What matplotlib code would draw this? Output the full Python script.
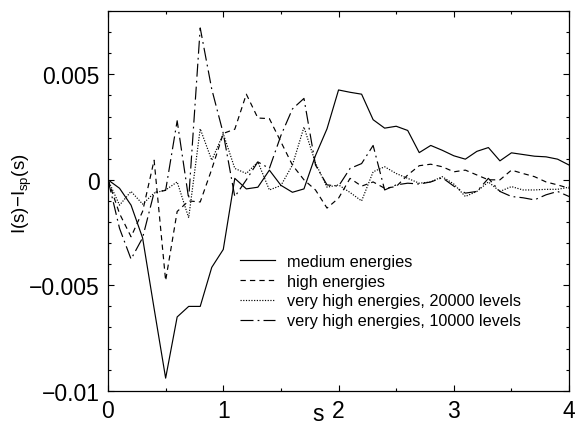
import matplotlib
matplotlib.use("Agg")
import matplotlib.pyplot as plt
from matplotlib.ticker import MultipleLocator, FixedLocator, FixedFormatter
import numpy as np

plt.rcParams['font.family'] = ['Liberation Sans', 'DejaVu Sans']
plt.rcParams['mathtext.fontset'] = 'custom'
plt.rcParams['mathtext.rm'] = 'Liberation Sans'
plt.rcParams['mathtext.it'] = 'Liberation Sans'

s = [round(0.1 * i, 1) for i in range(41)]

# values in units of 1e-3
medium = [0.0, -0.4, -1.2, -2.75, -6.1, -9.4, -6.5, -6.0, -6.0, -4.15, -3.3,
          0.07, -0.43, -0.35, 0.46, -0.26, -0.59, -0.43, 1.15, 2.42, 4.26,
          4.15, 4.06, 2.85, 2.45, 2.54, 2.34, 1.29, 1.63, 1.4, 1.14,
          0.98, 1.35, 1.53, 0.9, 1.28, 1.2, 1.12, 1.09, 0.98, 0.7]
high = [0.0, -1.6, -2.7, -1.5, 0.93, -4.78, -1.5, -1.0, -1.05, 0.5, 2.2,
        2.4, 4.06, 2.93, 2.9, 1.8, 0.7, 0.0, -0.48, -1.34, -0.87,
        0.07, -0.3, -0.1, -0.4, -0.32, 0.23, 0.67, 0.74, 0.62, 0.38,
        0.46, 0.23, 0.0, 0.0, 0.46, 0.3, 0.15, -0.1, -0.24, -0.4]
vhigh20000 = [0.0, -1.2, -0.55, -1.15, -0.63, -0.48, -0.1, -1.8, 2.42, 0.93, 2.18,
              0.54, 0.3, 0.85, -0.48, -0.27, 0.7, 2.5, 0.8, -0.35, -0.24,
              -0.6, -1.0, 0.38, 0.62, 0.3, 0.07, -0.16, -0.1, 0.15, -0.2,
              -0.79, -0.55, -0.1, -0.55, -0.32, -0.48, -0.48, -0.45, -0.45, -0.35]
vhigh10000 = [0.0, -2.3, -3.76, -2.75, -0.6, -0.5, 2.8, -0.9, 7.2, 4.3, 2.2,
              -0.8, 0.0, 0.85, 0.54, 2.1, 3.36, 3.86, 0.7, -0.24, -0.3,
              0.54, 0.77, 1.63, -0.48, -0.24, -0.16, -0.2, -0.1, 0.1, -0.3,
              -0.63, -0.55, 0.07, -0.55, -0.79, -0.85, -0.95, -0.71, -0.55, -0.79]

labels = ["medium energies", "high energies",
          "very high energies, 20000 levels", "very high energies, 10000 levels"]

fig = plt.figure(figsize=(5.76, 4.31), dpi=100)
ax = fig.add_axes([0.1875, 0.091, 0.8005, 0.881])

lw = 0.85
sc = 1e-3
ax.plot(s, np.array(medium) * sc, color='black', lw=lw, linestyle='-', label=labels[0])
ax.plot(s, np.array(high) * sc, color='black', lw=lw, linestyle=(0, (4.5, 3.5)), label=labels[1])
ax.plot(s, np.array(vhigh20000) * sc, color='black', lw=lw, linestyle=(0, (1, 1.3)), label=labels[2])
ax.plot(s, np.array(vhigh10000) * sc, color='black', lw=lw, linestyle=(0, (11, 3.5, 1.5, 3.5)), label=labels[3])

ax.set_xlim(0, 4)
ax.set_ylim(-0.01, 0.008)

ax.xaxis.set_major_locator(FixedLocator([0, 1, 2, 3, 4]))
ax.xaxis.set_major_formatter(FixedFormatter(["0", "1", "2", "3", "4"]))
ax.xaxis.set_minor_locator(MultipleLocator(0.5))
ax.yaxis.set_major_locator(FixedLocator([-0.01, -0.005, 0, 0.005]))
ax.yaxis.set_major_formatter(FixedFormatter(["\u22120.01", "\u22120.005", "0", "0.005"]))
ax.yaxis.set_minor_locator(MultipleLocator(0.001))

ax.tick_params(which='both', direction='in', top=True, right=True, labelsize=16.5, width=0.8)
ax.tick_params(which='major', length=4.5, pad=6)
ax.tick_params(which='minor', length=2.5)
for sp in ax.spines.values():
    sp.set_linewidth(0.9)

fig.text(318 / 576, 1 - 415 / 431, "s", fontsize=16.5, ha='center', va='center')
fig.text(22 / 576, 1 - 194 / 431, "I(s)\u2212I$_{\\rm sp}$(s)", fontsize=13.5,
         rotation=90, ha='center', va='center')

leg = ax.legend(loc='upper left', bbox_to_anchor=(0.286, 0.361), frameon=False,
                borderpad=0, borderaxespad=0,
                fontsize=11.7, handlelength=2.15, labelspacing=0.3, handletextpad=0.75)

fig.savefig("out.png", dpi=100)
